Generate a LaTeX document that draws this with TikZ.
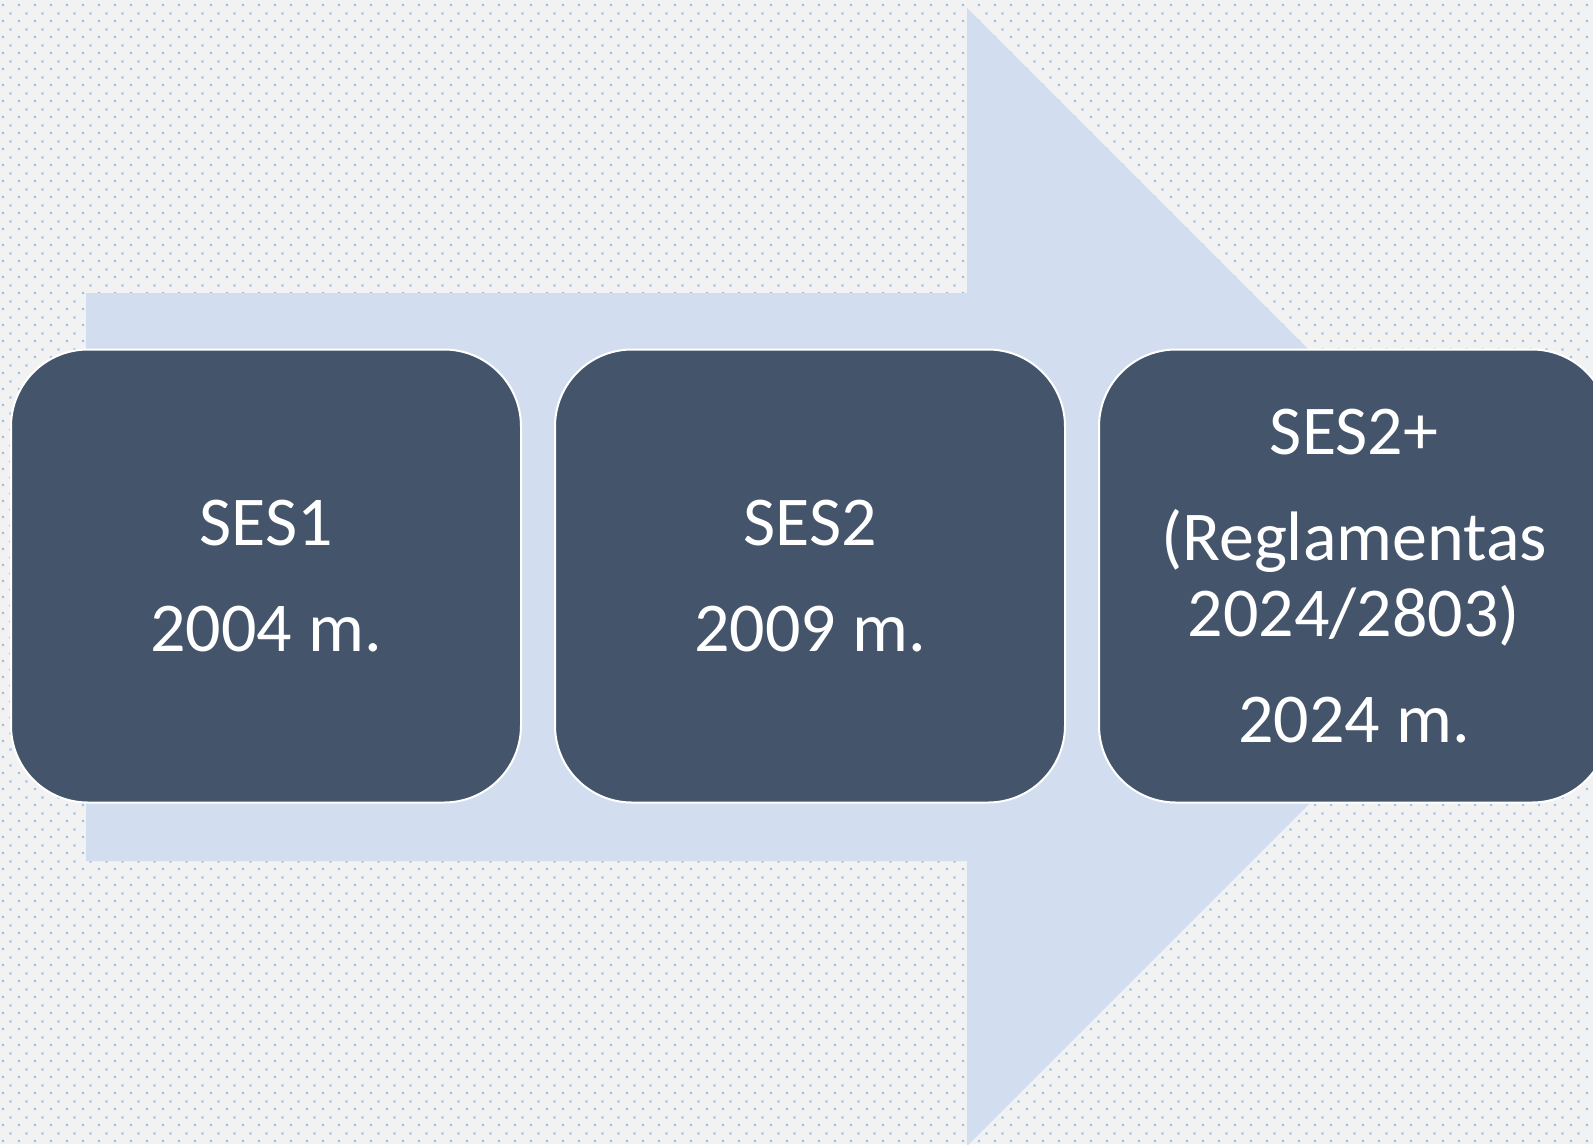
\documentclass[tikz,border=0pt]{standalone}
\usepackage{fontspec}
\usepackage{xcolor}
\usepackage{tikz}
\usetikzlibrary{positioning,calc,patterns}
\newfontfamily\boxfont{Carlito}
\definecolor{bgGray}{HTML}{F2F2F2}
\definecolor{dotBlue}{HTML}{9DC3E6}
\definecolor{arrowBlue}{HTML}{D2DEEF}
\definecolor{boxSlate}{HTML}{44546A}
\pgfdeclarepatternformonly{sesdots}{\pgfpoint{0pt}{0pt}}{\pgfpoint{16pt}{16pt}}{\pgfpoint{16pt}{16pt}}{%
	\pgfpathrectangle{\pgfpoint{3pt}{3pt}}{\pgfpoint{2.4pt}{2.4pt}}%
	\pgfpathrectangle{\pgfpoint{11pt}{11pt}}{\pgfpoint{2.4pt}{2.4pt}}%
	\pgfusepath{fill}}
\tikzset{
	stagebox/.style={rectangle, rounded corners=77pt, fill=boxSlate, draw=white, line width=2pt,
		minimum width=510pt, minimum height=453pt, inner sep=0pt, text=white, align=center,
		font=\boxfont\fontsize{70}{76}\selectfont},
}
\begin{document}
\begin{tikzpicture}[x=1pt,y=-1pt]
	\def\W{1593}
	\def\H{1144}
	\useasboundingbox (0,0) rectangle (\W,\H);
	\clip (0,0) rectangle (\W,\H);
	% background
	\fill[bgGray] (0,0) rectangle (\W,\H);
	\fill[pattern=sesdots, pattern color=dotBlue] (0,0) rectangle (\W,\H);
	% big arrow
	\fill[arrowBlue] (86,293) -- (967,293) -- (967,8) -- (1536,577) -- (967,1146) -- (967,861) -- (86,861) -- cycle;
	% stages
	\node[stagebox] (ses1) at (266,576) {SES1\\[30pt]2004 m.};
	\node[stagebox, right=32pt of ses1] (ses2) {SES2\\[30pt]2009 m.};
	\node[stagebox, right=32pt of ses2] (ses3) {SES2+\\[30pt](Reglamentas\\2024/2803)\\[30pt]2024 m.};
\end{tikzpicture}
\end{document}
